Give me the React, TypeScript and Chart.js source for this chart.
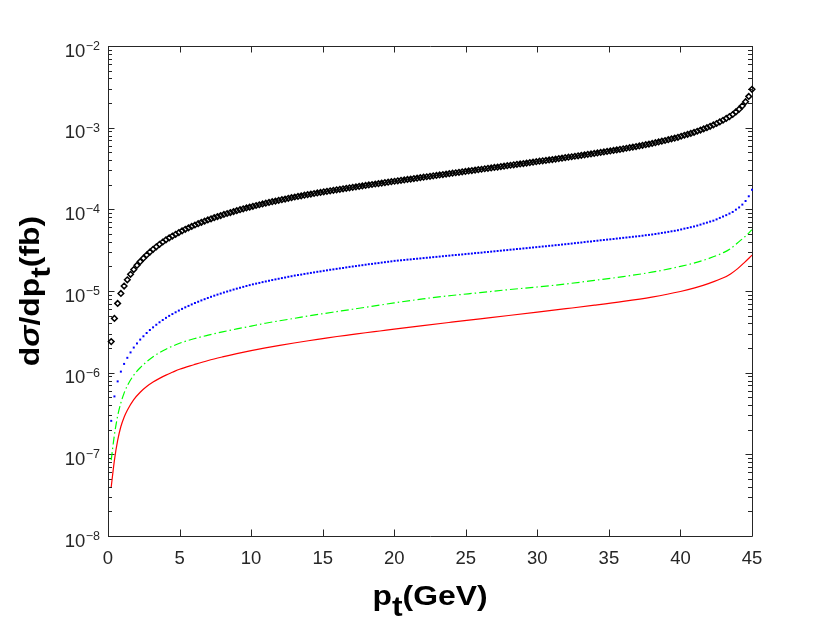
import React, { useEffect, useRef } from 'react';
import { Chart, registerables } from 'chart.js';

Chart.register(...registerables);

const FONT = '"Liberation Sans", Arial, Helvetica, sans-serif';
const AXIS_COLOR = '#262626';

// p_t grid of the two marker series (GeV)
const ptGrid = [
  0.225, 0.45, 0.675, 0.9, 1.125, 1.35, 1.575, 1.8, 2.025, 2.25, 2.475, 2.7, 2.925, 3.15, 3.375, 3.6, 3.825, 4.05, 4.275, 4.5,
  4.725, 4.95, 5.175, 5.4, 5.625, 5.85, 6.075, 6.3, 6.525, 6.75, 6.975, 7.2, 7.425, 7.65, 7.875, 8.1, 8.325, 8.55, 8.775, 9,
  9.225, 9.45, 9.675, 9.9, 10.125, 10.35, 10.575, 10.8, 11.025, 11.25, 11.475, 11.7, 11.925, 12.15, 12.375, 12.6, 12.825, 13.05, 13.275, 13.5,
  13.725, 13.95, 14.175, 14.4, 14.625, 14.85, 15.075, 15.3, 15.525, 15.75, 15.975, 16.2, 16.425, 16.65, 16.875, 17.1, 17.325, 17.55, 17.775, 18,
  18.225, 18.45, 18.675, 18.9, 19.125, 19.35, 19.575, 19.8, 20.025, 20.25, 20.475, 20.7, 20.925, 21.15, 21.375, 21.6, 21.825, 22.05, 22.275, 22.5,
  22.725, 22.95, 23.175, 23.4, 23.625, 23.85, 24.075, 24.3, 24.525, 24.75, 24.975, 25.2, 25.425, 25.65, 25.875, 26.1, 26.325, 26.55, 26.775, 27,
  27.225, 27.45, 27.675, 27.9, 28.125, 28.35, 28.575, 28.8, 29.025, 29.25, 29.475, 29.7, 29.925, 30.15, 30.375, 30.6, 30.825, 31.05, 31.275, 31.5,
  31.725, 31.95, 32.175, 32.4, 32.625, 32.85, 33.075, 33.3, 33.525, 33.75, 33.975, 34.2, 34.425, 34.65, 34.875, 35.1, 35.325, 35.55, 35.775, 36,
  36.225, 36.45, 36.675, 36.9, 37.125, 37.35, 37.575, 37.8, 38.025, 38.25, 38.475, 38.7, 38.925, 39.15, 39.375, 39.6, 39.825, 40.05, 40.275, 40.5,
  40.725, 40.95, 41.175, 41.4, 41.625, 41.85, 42.075, 42.3, 42.525, 42.75, 42.975, 43.2, 43.425, 43.65, 43.875, 44.1, 44.325, 44.55, 44.775, 45,
];

// black diamonds (fb/GeV)
const sigmaDiamond = [
  2.40e-6, 4.62e-6, 7.05e-6, 9.33e-6, 1.15e-5, 1.37e-5, 1.60e-5, 1.83e-5, 2.06e-5, 2.29e-5,
  2.52e-5, 2.76e-5, 3.00e-5, 3.24e-5, 3.48e-5, 3.73e-5, 3.98e-5, 4.23e-5, 4.47e-5, 4.71e-5,
  4.95e-5, 5.20e-5, 5.45e-5, 5.69e-5, 5.93e-5, 6.18e-5, 6.43e-5, 6.67e-5, 6.92e-5, 7.16e-5,
  7.41e-5, 7.66e-5, 7.91e-5, 8.15e-5, 8.39e-5, 8.65e-5, 8.89e-5, 9.14e-5, 9.40e-5, 9.64e-5,
  9.89e-5, 1.014e-4, 1.040e-4, 1.064e-4, 1.089e-4, 1.114e-4, 1.138e-4, 1.164e-4, 1.189e-4, 1.213e-4,
  1.239e-4, 1.262e-4, 1.288e-4, 1.312e-4, 1.337e-4, 1.365e-4, 1.390e-4, 1.416e-4, 1.439e-4, 1.462e-4,
  1.489e-4, 1.514e-4, 1.538e-4, 1.563e-4, 1.589e-4, 1.611e-4, 1.637e-4, 1.660e-4, 1.687e-4, 1.710e-4,
  1.734e-4, 1.758e-4, 1.782e-4, 1.811e-4, 1.837e-4, 1.862e-4, 1.884e-4, 1.910e-4, 1.936e-4, 1.963e-4,
  1.991e-4, 2.014e-4, 2.042e-4, 2.065e-4, 2.094e-4, 2.123e-4, 2.148e-4, 2.178e-4, 2.208e-4, 2.234e-4,
  2.265e-4, 2.291e-4, 2.323e-4, 2.350e-4, 2.382e-4, 2.410e-4, 2.443e-4, 2.472e-4, 2.506e-4, 2.535e-4,
  2.570e-4, 2.600e-4, 2.636e-4, 2.667e-4, 2.704e-4, 2.735e-4, 2.773e-4, 2.805e-4, 2.838e-4, 2.877e-4,
  2.911e-4, 2.951e-4, 2.985e-4, 3.027e-4, 3.062e-4, 3.097e-4, 3.141e-4, 3.177e-4, 3.214e-4, 3.258e-4,
  3.296e-4, 3.342e-4, 3.381e-4, 3.420e-4, 3.467e-4, 3.508e-4, 3.556e-4, 3.597e-4, 3.639e-4, 3.690e-4,
  3.733e-4, 3.784e-4, 3.828e-4, 3.882e-4, 3.926e-4, 3.972e-4, 4.027e-4, 4.074e-4, 4.130e-4, 4.178e-4,
  4.236e-4, 4.295e-4, 4.345e-4, 4.406e-4, 4.467e-4, 4.519e-4, 4.581e-4, 4.645e-4, 4.710e-4, 4.764e-4,
  4.831e-4, 4.898e-4, 4.977e-4, 5.047e-4, 5.117e-4, 5.188e-4, 5.260e-4, 5.346e-4, 5.420e-4, 5.508e-4,
  5.598e-4, 5.689e-4, 5.781e-4, 5.875e-4, 5.970e-4, 6.081e-4, 6.194e-4, 6.295e-4, 6.412e-4, 6.546e-4,
  6.683e-4, 6.823e-4, 6.966e-4, 7.129e-4, 7.295e-4, 7.447e-4, 7.621e-4, 7.852e-4, 8.072e-4, 8.279e-4,
  8.511e-4, 8.750e-4, 9.036e-4, 9.354e-4, 9.683e-4, 1.000e-3, 1.038e-3, 1.079e-3, 1.125e-3, 1.178e-3,
  1.233e-3, 1.297e-3, 1.368e-3, 1.449e-3, 1.560e-3, 1.683e-3, 1.849e-3, 2.080e-3, 2.415e-3, 2.951e-3,
];

// blue dots
const sigmaBlue = [
  2.57e-7, 5.12e-7, 7.82e-7, 1.03e-6, 1.28e-6, 1.52e-6, 1.77e-6, 2.03e-6, 2.28e-6, 2.54e-6,
  2.79e-6, 3.06e-6, 3.33e-6, 3.59e-6, 3.86e-6, 4.14e-6, 4.41e-6, 4.69e-6, 4.96e-6, 5.22e-6,
  5.49e-6, 5.76e-6, 6.04e-6, 6.31e-6, 6.57e-6, 6.85e-6, 7.13e-6, 7.39e-6, 7.67e-6, 7.94e-6,
  8.22e-6, 8.49e-6, 8.77e-6, 9.04e-6, 9.30e-6, 9.59e-6, 9.86e-6, 1.013e-5, 1.042e-5, 1.069e-5,
  1.096e-5, 1.124e-5, 1.153e-5, 1.180e-5, 1.207e-5, 1.232e-5, 1.256e-5, 1.285e-5, 1.309e-5, 1.336e-5,
  1.362e-5, 1.387e-5, 1.412e-5, 1.439e-5, 1.463e-5, 1.493e-5, 1.517e-5, 1.546e-5, 1.568e-5, 1.589e-5,
  1.618e-5, 1.640e-5, 1.666e-5, 1.690e-5, 1.718e-5, 1.738e-5, 1.766e-5, 1.791e-5, 1.820e-5, 1.841e-5,
  1.867e-5, 1.892e-5, 1.914e-5, 1.945e-5, 1.973e-5, 1.996e-5, 2.019e-5, 2.047e-5, 2.071e-5, 2.099e-5,
  2.129e-5, 2.147e-5, 2.177e-5, 2.197e-5, 2.228e-5, 2.254e-5, 2.280e-5, 2.307e-5, 2.339e-5, 2.357e-5,
  2.377e-5, 2.399e-5, 2.422e-5, 2.438e-5, 2.466e-5, 2.485e-5, 2.506e-5, 2.530e-5, 2.552e-5, 2.571e-5,
  2.599e-5, 2.618e-5, 2.641e-5, 2.667e-5, 2.691e-5, 2.711e-5, 2.740e-5, 2.761e-5, 2.780e-5, 2.804e-5,
  2.832e-5, 2.857e-5, 2.876e-5, 2.911e-5, 2.930e-5, 2.950e-5, 2.986e-5, 3.006e-5, 3.035e-5, 3.062e-5,
  3.092e-5, 3.118e-5, 3.148e-5, 3.170e-5, 3.207e-5, 3.230e-5, 3.265e-5, 3.288e-5, 3.320e-5, 3.348e-5,
  3.381e-5, 3.412e-5, 3.442e-5, 3.475e-5, 3.508e-5, 3.531e-5, 3.573e-5, 3.599e-5, 3.639e-5, 3.665e-5,
  3.706e-5, 3.741e-5, 3.775e-5, 3.811e-5, 3.854e-5, 3.892e-5, 3.925e-5, 3.973e-5, 4.019e-5, 4.044e-5,
  4.094e-5, 4.130e-5, 4.179e-5, 4.216e-5, 4.257e-5, 4.295e-5, 4.336e-5, 4.386e-5, 4.425e-5, 4.478e-5,
  4.518e-5, 4.562e-5, 4.614e-5, 4.655e-5, 4.697e-5, 4.754e-5, 4.820e-5, 4.865e-5, 4.921e-5, 4.989e-5,
  5.059e-5, 5.142e-5, 5.210e-5, 5.296e-5, 5.384e-5, 5.456e-5, 5.547e-5, 5.673e-5, 5.807e-5, 5.914e-5,
  6.040e-5, 6.166e-5, 6.323e-5, 6.500e-5, 6.701e-5, 6.873e-5, 7.081e-5, 7.261e-5, 7.535e-5, 7.853e-5,
  8.166e-5, 8.488e-5, 8.872e-5, 9.288e-5, 9.911e-5, 1.055e-4, 1.143e-4, 1.265e-4, 1.445e-4, 1.738e-4,
];

// p_t grid of the two line series
const ptLine = [
  0.225, 0.45, 0.675, 0.9, 1.125, 1.35, 1.8, 2.25, 2.7, 3.15, 3.6, 4.05, 4.5, 5, 6, 7, 8, 9, 10, 11,
  12, 13, 14, 15, 16, 17, 18, 19, 20, 22, 24, 26, 28, 30, 32, 34, 36, 38, 40, 41,
  42, 43, 43.5, 44, 44.5, 45,
];

// green dash-dot line
const sigmaGreen = [
  8.51e-8, 1.74e-7, 2.95e-7, 4.27e-7, 5.62e-7, 6.92e-7, 9.33e-7, 1.15e-6, 1.36e-6, 1.57e-6,
  1.76e-6, 1.94e-6, 2.11e-6, 2.29e-6, 2.60e-6, 2.88e-6, 3.16e-6, 3.43e-6, 3.72e-6, 4.03e-6,
  4.32e-6, 4.62e-6, 4.95e-6, 5.27e-6, 5.60e-6, 5.95e-6, 6.32e-6, 6.72e-6, 7.15e-6, 8.00e-6,
  8.81e-6, 9.55e-6, 1.04e-5, 1.12e-5, 1.22e-5, 1.35e-5, 1.50e-5, 1.70e-5, 2.00e-5, 2.21e-5,
  2.51e-5, 2.95e-5, 3.31e-5, 3.89e-5, 4.62e-5, 5.62e-5,
];

// red solid line
const sigmaRed = [
  3.98e-8, 8.51e-8, 1.48e-7, 2.19e-7, 2.85e-7, 3.47e-7, 4.68e-7, 5.75e-7, 6.76e-7, 7.67e-7,
  8.51e-7, 9.33e-7, 1.01e-6, 1.10e-6, 1.25e-6, 1.41e-6, 1.56e-6, 1.71e-6, 1.86e-6, 2.01e-6,
  2.16e-6, 2.31e-6, 2.46e-6, 2.61e-6, 2.77e-6, 2.92e-6, 3.08e-6, 3.24e-6, 3.41e-6, 3.77e-6,
  4.15e-6, 4.56e-6, 5.01e-6, 5.51e-6, 6.07e-6, 6.70e-6, 7.45e-6, 8.43e-6, 9.86e-6, 1.09e-5,
  1.24e-5, 1.45e-5, 1.62e-5, 1.88e-5, 2.26e-5, 2.75e-5,
];

const xTickValues = [0, 5, 10, 15, 20, 25, 30, 35, 40, 45];
const yDecades = [1e-8, 1e-7, 1e-6, 1e-5, 1e-4, 1e-3, 1e-2];
const yExponents = ['\u22128', '\u22127', '\u22126', '\u22125', '\u22124', '\u22123', '\u22122'];
const yMinorSteps = [2, 3, 4, 5, 6, 7, 8, 9];

const toPoints = (xs: number[], ys: number[]) => xs.map((x, i) => ({ x, y: ys[i] }));

// MATLAB-like box, inward ticks and tick labels
const matlabAxes = {
  id: 'matlabAxes',
  beforeDatasetsDraw(chart: any) {
    const { ctx, chartArea: a, scales } = chart;
    const xs = scales.x;
    const ys = scales.y;
    ctx.save();
    ctx.strokeStyle = AXIS_COLOR;
    ctx.lineWidth = 1;
    ctx.beginPath();
    ctx.rect(a.left + 0.5, a.top + 0.5, a.right - a.left, a.bottom - a.top);
    xTickValues.forEach((v) => {
      const px = Math.round(xs.getPixelForValue(v)) + 0.5;
      ctx.moveTo(px, a.bottom);
      ctx.lineTo(px, a.bottom - 6.5);
      ctx.moveTo(px, a.top);
      ctx.lineTo(px, a.top + 6.5);
    });
    yDecades.forEach((d, i) => {
      const py = Math.round(ys.getPixelForValue(d)) + 0.5;
      ctx.moveTo(a.left, py);
      ctx.lineTo(a.left + 6.5, py);
      ctx.moveTo(a.right, py);
      ctx.lineTo(a.right - 6.5, py);
      if (i < yDecades.length - 1) {
        yMinorSteps.forEach((m) => {
          const pm = Math.round(ys.getPixelForValue(d * m)) + 0.5;
          ctx.moveTo(a.left, pm);
          ctx.lineTo(a.left + 4, pm);
          ctx.moveTo(a.right, pm);
          ctx.lineTo(a.right - 4, pm);
        });
      }
    });
    ctx.stroke();
    ctx.restore();
  },
  afterDraw(chart: any) {
    const { ctx, chartArea: a, scales } = chart;
    const xs = scales.x;
    const ys = scales.y;
    ctx.save();
    ctx.fillStyle = AXIS_COLOR;
    ctx.textBaseline = 'alphabetic';

    ctx.textAlign = 'center';
    ctx.font = `18.5px ${FONT}`;
    xTickValues.forEach((v) => {
      ctx.fillText(String(v), xs.getPixelForValue(v), a.bottom + 27.5);
    });

    ctx.textAlign = 'right';
    yDecades.forEach((d, i) => {
      const py = ys.getPixelForValue(d);
      const right = a.left - 8;
      ctx.font = `12.5px ${FONT}`;
      const w = ctx.measureText(yExponents[i]).width;
      ctx.fillText(yExponents[i], right, py + 4);
      ctx.font = `18.5px ${FONT}`;
      ctx.fillText('10', right - w - 0.5, py + 10.7);
    });
    ctx.restore();
  },
};

const CrossSectionChart = () => {
  const chartRef = useRef<HTMLCanvasElement>(null);

  useEffect(() => {
    const canvas = chartRef.current;
    if (!canvas) return;

    const chart = new Chart(canvas, {
      type: 'line',
      data: {
        datasets: [
          {
            label: 'red',
            data: toPoints(ptLine, sigmaRed),
            borderColor: '#ff0000',
            borderWidth: 1.2,
            pointRadius: 0,
            cubicInterpolationMode: 'monotone',
            fill: false,
          },
          {
            label: 'green',
            data: toPoints(ptLine, sigmaGreen),
            borderColor: '#00ff00',
            borderWidth: 1.2,
            borderDash: [8, 3, 1.5, 3],
            pointRadius: 0,
            cubicInterpolationMode: 'monotone',
            fill: false,
          },
          {
            label: 'blue',
            data: toPoints(ptGrid, sigmaBlue),
            showLine: false,
            pointStyle: 'rect',
            pointRadius: 1.4,
            backgroundColor: '#0000ff',
            borderColor: '#0000ff',
            borderWidth: 0,
            clip: false,
          },
          {
            label: 'black',
            data: toPoints(ptGrid, sigmaDiamond),
            showLine: false,
            pointStyle: 'rectRot',
            pointRadius: 2.8,
            backgroundColor: 'rgba(0,0,0,0)',
            borderColor: '#000000',
            borderWidth: 1.5,
            clip: false,
          },
        ],
      } as any,
      options: {
        responsive: false,
        animation: false,
        events: [],
        layout: { padding: { left: 0, top: 46, right: 78, bottom: 0 } },
        plugins: { legend: { display: false }, tooltip: { enabled: false } },
        scales: {
          x: {
            type: 'linear',
            min: 0,
            max: 45,
            grid: { display: false, drawTicks: false },
            border: { display: false },
            ticks: { display: false, stepSize: 5 },
            afterFit: (s: any) => {
              s.height = 87;
            },
          },
          y: {
            type: 'logarithmic',
            min: 1e-8,
            max: 1e-2,
            grid: { display: false, drawTicks: false },
            border: { display: false },
            ticks: { display: false },
            afterFit: (s: any) => {
              s.width = 108;
            },
          },
        },
      } as any,
      plugins: [matlabAxes],
    });

    return () => {
      chart.destroy();
    };
  }, []);

  const titleFont = `bold 27px ${FONT}`;

  return (
    <div style={{ position: 'fixed', left: 0, top: 0, width: 830, height: 623, background: '#fff', overflow: 'hidden' }}>
      <canvas ref={chartRef} width={830} height={623} style={{ position: 'absolute', left: 0, top: 0 }} />
      <div
        style={{
          position: 'absolute', left: 230, top: 581, width: 400, height: 30, lineHeight: '30px',
          textAlign: 'center', font: titleFont, color: '#000', transform: 'scaleX(1.18)', whiteSpace: 'nowrap',
        }}
      >
        p<span style={{ position: 'relative', top: 11 }}>t</span>(GeV)
      </div>
      <div
        style={{
          position: 'absolute', left: -170, top: 276, width: 400, height: 30, lineHeight: '30px',
          textAlign: 'center', font: titleFont, color: '#000', transform: 'rotate(-90deg) scaleX(1.18)', whiteSpace: 'nowrap',
        }}
      >
        d<span style={{ fontStyle: 'italic' }}>σ</span>/dp<span style={{ position: 'relative', top: 11 }}>t</span>(fb)
      </div>
    </div>
  );
};

export default function App() {
  return <CrossSectionChart />;
}
